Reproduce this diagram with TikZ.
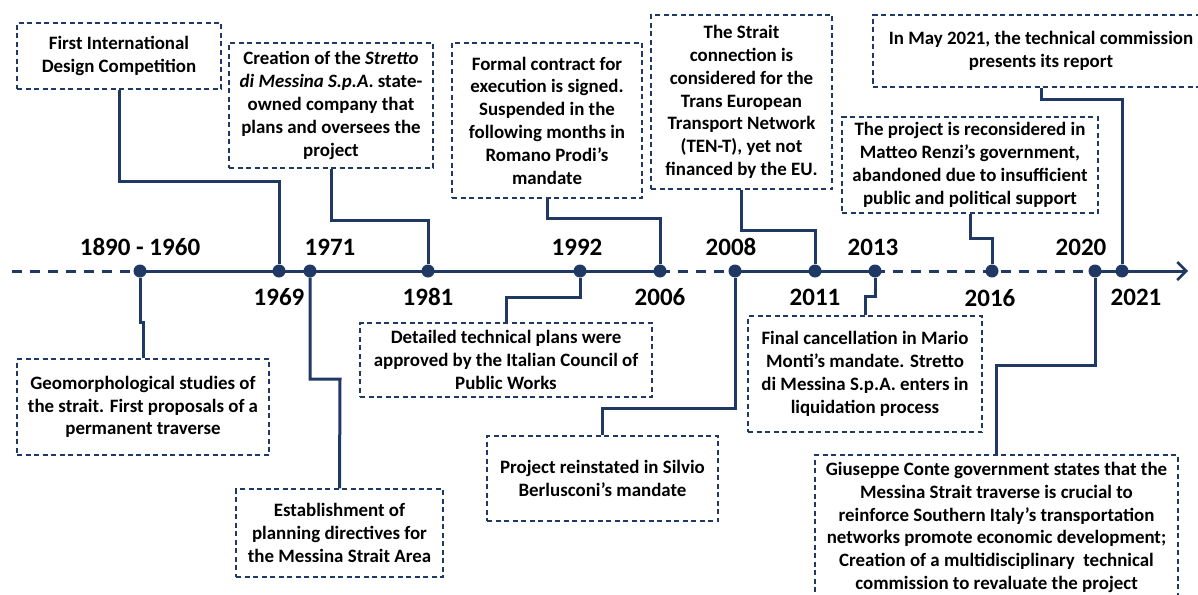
\documentclass[tikz,border=0pt]{standalone}
\usepackage{fontspec}
\setmainfont{Carlito}
\usetikzlibrary{arrows.meta}
\definecolor{navy}{RGB}{31,56,100}
\tikzset{
  event/.style={draw=navy, line width=1.3pt, dash pattern=on 5pt off 3.5pt, inner sep=0pt, align=center,
    font=\fontsize{18.9}{22.8}\selectfont\bfseries, text=black},
  link/.style={navy, line width=3pt},
  axis/.style={navy, line width=3pt},
  tick/.style={circle, fill=navy, inner sep=0pt, minimum size=13pt},
  year/.style={font=\fontsize{25}{29}\selectfont\bfseries, text=black, inner sep=0pt}
}
\begin{document}
\begin{tikzpicture}[x=1pt, y=-1pt]
  \useasboundingbox (0,0) rectangle (1198,594);
  \clip (0,0) rectangle (1198,594);
  % events above the line
  \node[event, minimum width=204pt, minimum height=66pt] (e1969) at (119,56)
    {First International\\Design Competition};
  \node[event, minimum width=204pt, minimum height=125pt] (e1981) at (331,105.5)
    {Creation of the \textit{Stretto}\\\textit{di Messina S.p.A}. state-\\owned company that\\plans and oversees the\\project};
  \node[event, minimum width=190pt, minimum height=155pt] (e2006) at (547,120.5)
    {Formal contract for\\execution is signed.\\Suspended in the\\following months in\\Romano Prodi’s\\mandate};
  \node[event, minimum width=181pt, minimum height=174pt] (e2011) at (741.5,102)
    {The Strait\\connection is\\considered for the\\Trans European\\Transport Network\\(TEN-T), yet not\\financed by the EU.};
  \node[event, minimum width=336pt, minimum height=72pt] (e2021) at (1041,51)
    {In May 2021, the technical commission\\presents its report};
  \node[event, minimum width=256pt, minimum height=96pt] (e2016) at (970,165)
    {The project is reconsidered in\\Matteo Renzi’s government,\\abandoned due to insufficient\\public and political support};
  % events below the line
  \node[event, minimum width=252pt, minimum height=96pt] (e1890) at (143,407)
    {Geomorphological studies of\\the strait. First proposals of a\\permanent traverse};
  \node[event, minimum width=207pt, minimum height=88pt] (e1971) at (339.5,533)
    {Establishment of\\planning directives for\\the Messina Strait Area};
  \node[event, minimum width=292pt, minimum height=74pt] (e1992) at (506,360)
    {Detailed technical plans were\\approved by the Italian Council of\\Public Works};
  \node[event, minimum width=231pt, minimum height=85pt] (e2008) at (602.5,478.5)
    {Project reinstated in Silvio\\Berlusconi’s mandate};
  \node[event, minimum width=234pt, minimum height=116pt] (e2013) at (865,374)
    {Final cancellation in Mario\\Monti’s mandate. Stretto\\di Messina S.p.A. enters in\\liquidation process};
  \node[event, minimum width=363pt, minimum height=145pt] (e2020) at (996.5,527.5)
    {Giuseppe Conte government states that the\\Messina Strait traverse is crucial to\\reinforce Southern Italy’s transportation\\networks promote economic development;\\Creation of a multidisciplinary\ \ technical\\commission to revaluate the project};
  % time line
  \coordinate (start) at (12,271);
  \coordinate (end) at (1188,271);
  \node[tick] (d1890) at (140,271) {};
  \node[tick] (d1969) at (279,271) {};
  \node[tick] (d1971) at (310,271) {};
  \node[tick] (d1981) at (428,271) {};
  \node[tick] (d1992) at (580,271) {};
  \node[tick] (d2006) at (660,271) {};
  \node[tick] (d2008) at (735,271) {};
  \node[tick] (d2011) at (815,271) {};
  \node[tick] (d2013) at (875,271) {};
  \node[tick] (d2016) at (992,271) {};
  \node[tick] (d2020) at (1095,271) {};
  \node[tick] (d2021) at (1122,271) {};
  \draw[axis, dash pattern=on 10pt off 8pt] (start) -- (d1890.center);
  \draw[axis] (d1890.center) -- (d2006.center);
  \draw[axis, dash pattern=on 10pt off 8pt] (d2006.center) -- (d2008.center);
  \draw[axis] (d2008.center) -- (d2013.center);
  \draw[axis, dash pattern=on 10pt off 8pt] (d2013.center) -- (d2020.center);
  \draw[axis, -{Straight Barb[length=9pt, width=18pt, line width=2.5pt]}] (d2020.center) -- (end);
  % connectors
  \draw[link] (d1890) |- (143,322) -- (e1890.north);
  \draw[link] (e1969.south) |- (279,181) -- (d1969);
  \draw[link] (d1971) |- (340,379) -- (e1971.north);
  \draw[link] (e1981.south) |- (428,220) -- (d1981);
  \draw[link] (d1992) |- (506,297) -- (e1992.north);
  \draw[link] (e2006.south) |- (660,218) -- (d2006);
  \draw[link] (d2008) |- (602.5,408) -- (e2008.north);
  \draw[link] (e2011.south) |- (815,230) -- (d2011);
  \draw[link] (d2013) |- (865,296) -- (e2013.north);
  \draw[link] (e2016.south) |- (992,238) -- (d2016);
  \draw[link] (d2020) |- (996.5,365) -- (e2020.north);
  \draw[link] (e2021.south) |- (1122,99) -- (d2021);
  % year labels
  \node[year] (l1890) at (140,247) {1890 - 1960};
  \node[year] (l1971) at (330,247) {1971};
  \node[year] (l1992) at (577,247) {1992};
  \node[year] (l2008) at (731,247) {2008};
  \node[year] (l2013) at (873,247) {2013};
  \node[year] (l2020) at (1081,247) {2020};
  \node[year] (l1969) at (279,297) {1969};
  \node[year] (l1981) at (428,297) {1981};
  \node[year] (l2006) at (660,297) {2006};
  \node[year] (l2011) at (815,297) {2011};
  \node[year] (l2016) at (990,298) {2016};
  \node[year] (l2021) at (1136,297) {2021};
\end{tikzpicture}
\end{document}
